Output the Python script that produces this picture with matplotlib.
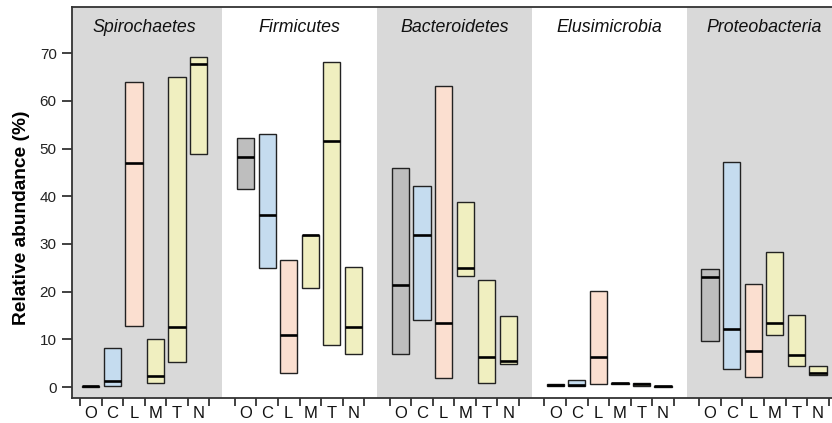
import numpy as np
import matplotlib
matplotlib.use('Agg')
import matplotlib.pyplot as plt
from matplotlib.patches import Rectangle

plt.rcParams['font.family'] = ['Liberation Sans', 'DejaVu Sans']

phyla = ['Spirochaetes', 'Firmicutes', 'Bacteroidetes', 'Elusimicrobia', 'Proteobacteria']
groups = ['O', 'C', 'L', 'M', 'T', 'N']
group_colors = ['#bebebe', '#c5dcef', '#fbdfd0', '#f0efc0', '#f0efc0', '#f0efc0']

# min / median / max relative abundance (%) per phylum, order O C L M T N
ab_min = {
    'Spirochaetes':   [0.05, 0.15, 12.8, 0.8, 5.2, 48.8],
    'Firmicutes':     [41.5, 24.9, 3.0, 20.8, 8.9, 6.9],
    'Bacteroidetes':  [6.9, 14.0, 1.8, 23.3, 0.9, 4.8],
    'Elusimicrobia':  [0.2, 0.2, 0.6, 0.6, 0.3, 0.05],
    'Proteobacteria': [9.6, 3.7, 2.1, 10.9, 4.4, 2.5],
}
ab_med = {
    'Spirochaetes':   [0.15, 1.26, 47.0, 2.3, 12.5, 67.8],
    'Firmicutes':     [48.2, 36.1, 10.9, 31.8, 51.6, 12.6],
    'Bacteroidetes':  [21.4, 31.9, 13.5, 25.0, 6.4, 5.45],
    'Elusimicrobia':  [0.4, 0.42, 6.4, 0.8, 0.6, 0.15],
    'Proteobacteria': [23.1, 12.2, 7.6, 13.5, 6.8, 2.9],
}
ab_max = {
    'Spirochaetes':   [0.3, 8.2, 63.9, 10.1, 65.1, 69.2],
    'Firmicutes':     [52.3, 53.1, 26.6, 31.9, 68.2, 25.2],
    'Bacteroidetes':  [46.0, 42.1, 63.2, 38.8, 22.4, 14.9],
    'Elusimicrobia':  [0.6, 1.4, 20.1, 0.9, 0.9, 0.25],
    'Proteobacteria': [24.7, 47.2, 21.7, 28.4, 15.1, 4.5],
}

#===============================================================================
G = 7.18          # distance between group starts (in slots)
box_w = 0.8
edge = '#222222'

fig = plt.figure(figsize=(8.32, 4.23), dpi=100)
ax = fig.add_axes([72/832, 25/423, 1 - 72/832, 391/423])

xmin = -0.5 - 8/21.55
xmax = 4*G + 5.5 + 3.3/21.55
ax.set_xlim(xmin, xmax)
ax.set_ylim(-2.3, 79.7)

major_ticks = []
centers = []
labels = []
for g, ph in enumerate(phyla):
    x0 = g*G
    if g % 2 == 0:
        left = x0 - 0.5 - (G - 6)/2
        right = x0 + 5.5 + (G - 6)/2
        ax.axvspan(left, right, color='#d9d9d9', zorder=0, lw=0)
    ax.text(x0 + 2.5, 75.3, ph, ha='center', va='center', fontsize=12.8,
            style='italic', color='#111111')
    for i in range(6):
        lo, md, hi = ab_min[ph][i], ab_med[ph][i], ab_max[ph][i]
        xc = x0 + i
        ax.add_patch(Rectangle((xc - box_w/2, lo), box_w, hi - lo,
                               facecolor=group_colors[i], edgecolor=edge,
                               lw=1.0, zorder=2))
        ax.plot([xc - box_w/2, xc + box_w/2], [md, md], color='black',
                lw=1.9, solid_capstyle='butt', zorder=3)
        centers.append(xc)
        labels.append(groups[i])
    major_ticks += [x0 + i - 0.5 for i in range(7)]

ax.set_xticks(major_ticks)
ax.set_xticklabels([])
ax.set_xticks(centers, minor=True)
ax.set_xticklabels(labels, minor=True, fontsize=12)
ax.tick_params(axis='x', which='major', length=6, width=1.3, color='#333333')
ax.tick_params(axis='x', which='minor', length=0, pad=6, labelcolor='#111111')

ax.set_yticks(np.arange(0, 71, 10))
ax.tick_params(axis='y', length=7, width=1.3, color='#333333', labelsize=11,
               labelcolor='#222222', pad=4)
fig.text(22/832, 1 - 218/423, 'Relative abundance (%)', rotation=90,
         ha='center', va='center', fontsize=13.8, fontweight='bold')

for s in ['left', 'bottom', 'top']:
    ax.spines[s].set_color('#333333')
    ax.spines[s].set_linewidth(1.3)
ax.spines['right'].set_visible(False)

fig.savefig('out.png', dpi=100)
